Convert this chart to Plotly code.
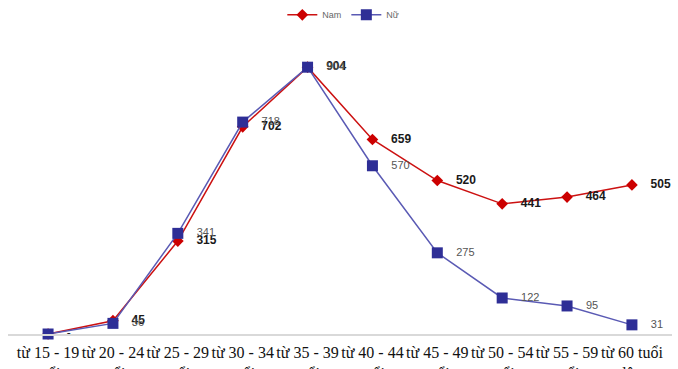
import plotly.graph_objects as go

# Age groups (Vietnamese labels, wrapped onto two lines)
categories = [
    "từ 15 - 19<br>tuổi", "từ 20 - 24<br>tuổi", "từ 25 - 29<br>tuổi",
    "từ 30 - 34<br>tuổi", "từ 35 - 39<br>tuổi", "từ 40 - 44<br>tuổi",
    "từ 45 - 49<br>tuổi", "từ 50 - 54<br>tuổi", "từ 55 - 59<br>tuổi",
    "từ 60 tuổi<br>lên",
]
nam = [0, 45, 315, 702, 904, 659, 520, 441, 464, 505]
nu = [0, 36, 341, 718, 904, 570, 275, 122, 95, 31]

pad = "\u2002\u2002"
nam_text = [pad + ("-" if v == 0 else f"<b>{v}</b>") for v in nam]
nu_text = [pad + ("" if v == 0 else str(v)) for v in nu]

fig = go.Figure()

fig.add_trace(go.Scatter(
    x=categories, y=nam, name="Nam", mode="lines+markers+text",
    line=dict(color="#CC1111", width=1.5),
    marker=dict(symbol="diamond", size=9, color="#CC0000"),
    text=nam_text, textposition="middle right",
    textfont=dict(family="Liberation Sans, Arial", size=12, color="#1a1a1a"),
    cliponaxis=False,
))
fig.add_trace(go.Scatter(
    x=categories, y=nu, name="Nữ", mode="lines+markers+text",
    line=dict(color="#5A5AB4", width=1.5),
    marker=dict(symbol="square", size=11, color="#2E2E96"),
    text=nu_text, textposition="middle right",
    textfont=dict(family="Liberation Sans, Arial", size=11, color="#555555"),
    cliponaxis=False,
))

fig.update_layout(
    width=678, height=369,
    margin=dict(l=8, r=6, t=30, b=35, autoexpand=False),
    paper_bgcolor="white", plot_bgcolor="white",
    showlegend=True,
    legend=dict(
        orientation="h", x=0.505, y=1.05, xanchor="center", yanchor="middle",
        font=dict(family="Liberation Sans, Arial", size=9, color="#666666"),
        traceorder="normal", bgcolor="rgba(0,0,0,0)",
    ),
    xaxis=dict(
        type="category", showgrid=False, zeroline=False,
        showline=True, linecolor="#D9D9D9", linewidth=2,
        ticks="", automargin=False, ticklabelstandoff=3,
        tickfont=dict(family="Liberation Serif, Times New Roman", size=16, color="#111111"),
    ),
    yaxis=dict(
        range=[0, 1030], showgrid=False, zeroline=False,
        showticklabels=False, showline=False, automargin=False,
    ),
)

fig.write_html("out.html")
